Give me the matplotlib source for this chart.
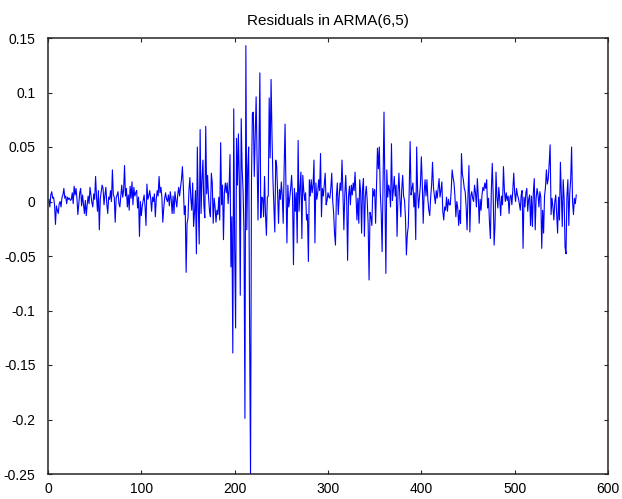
import numpy as np
import matplotlib
matplotlib.use("Agg")
import matplotlib.pyplot as plt
from matplotlib.ticker import FixedLocator, FuncFormatter

# ARMA(6,5) residuals, in thousandths, one row per 10 observations
resid_milli = [
    2, -5, 6, 9, 3, 4, -3, -21, -4, -8,
    -11, -2, 0, -5, 4, 6, 12, 3, 5, -2,
    4, 2, 3, 1, 2, 8, -2, 14, 6, 12,
    3, -12, -2, 8, 12, -4, 6, -3, -11, 1,
    -13, -3, 5, -2, 13, 6, -1, -5, 7, 2,
    23, 4, -9, 10, -26, 2, 9, 15, 12, -3,
    6, 13, -2, -11, 4, 2, 10, 0, 29, 6,
    4, -19, 3, 6, 9, -2, -5, 5, 15, 4,
    10, 33, 5, 12, -5, 6, -8, 14, 3, 18,
    -3, 13, 5, 8, 10, -6, 4, -32, 0, -13,
    -4, 1, 6, -5, -22, 16, 2, 5, 10, 3,
    -9, 4, 0, 7, -14, 2, 10, 5, 23, 8,
    13, 4, -19, -6, 3, 8, 2, 0, 6, -4,
    9, 2, -11, 5, -11, 9, 1, -5, 6, 13,
    5, 13, 20, 32, 14, -12, -4, -65, -20, -15,
    10, 22, 3, -8, 17, -23, -10, 10, -48, 50,
    -5, -39, 66, -11, 20, 38, -3, -15, 69, 7,
    24, 4, -8, -14, 26, 17, -20, 3, -5, -19,
    -8, -12, 4, -17, 54, -3, 15, -35, 8, 17,
    8, 17, -2, 12, 43, -60, -14, -139, 85, -40,
    -116, 58, 15, 62, 20, -86, 76, 30, 10, -29,
    -199, 143, -26, 30, 50, -116, -252, 18, 81, 82,
    23, 60, 96, 40, -17, 44, 118, -15, 4, 3,
    -14, 23, -11, -31, 4, 5, 95, 40, 112, 60,
    20, -5, -28, 38, 33, 8, -20, 11, 2, 18,
    5, -20, 30, 71, 10, -38, 15, -5, 3, 12,
    24, 5, -58, 12, -9, 8, -38, 56, -9, 12,
    27, -34, 24, 10, 1, 8, -17, -12, -55, 20,
    5, 20, 8, 15, 38, -38, 17, 2, 8, 20,
    10, 44, -14, 12, 5, 15, 26, -3, 1, 8,
    4, 3, 12, 26, 1, -10, -29, -40, 5, 17,
    -12, 5, 17, 10, 38, 8, -26, 6, 24, 1,
    -54, 5, 14, -3, 15, 6, 17, 10, 27, 4,
    -17, 3, -20, 20, 8, -29, 12, 21, -32, 5,
    14, 1, -20, -72, -10, -14, -22, 12, 5, 11,
    -20, 15, 49, 30, 50, 8, -10, -46, 20, 82,
    10, -66, 29, 4, 15, 10, -5, 53, 1, 10,
    23, 5, 15, -32, 8, 26, 3, -14, 11, 24,
    5, 1, -15, -49, -30, -23, 10, 55, 6, 12,
    17, -5, 8, -35, 50, 10, -6, 4, 15, 41,
    17, -20, 8, 20, 5, 20, 2, -8, -13, 4,
    15, 36, 13, 5, -2, 10, 3, 12, 21, 4,
    10, 18, -9, -17, -5, -8, 4, -9, 2, -3,
    -3, 10, 29, 22, 17, 5, -14, 0, -6, -22,
    -8, -20, 44, 25, 20, 12, 9, -5, -26, 6,
    33, -28, 5, 9, 3, 0, 15, 8, -5, 21,
    5, -20, 2, -8, 6, 13, 10, 17, 12, 20,
    -6, 3, -19, -34, 10, 35, 5, -40, -20, 27,
    4, -6, 13, 2, -13, 5, -3, 32, 10, 0,
    8, 1, 5, -11, 4, 6, -3, 10, 26, 8,
    0, 12, 6, 3, -2, -8, 6, 10, -43, 4,
    -5, 8, 12, -9, 2, 6, -22, 5, -23, 8,
    21, -26, 3, 12, 6, -5, 9, 4, -43, -8,
    -29, 5, 13, 29, 16, 21, 35, 52, -12, 3,
    -5, -17, 0, 6, -11, -29, 4, -17, 36, 5,
    -23, 20, 2, -42, -48, 5, 20, -22, 7, 20,
    50, 0, -12, 3, -2, 6,
]
x_ticks = [0, 100, 200, 300, 400, 500, 600]
y_ticks = [-0.25, -0.2, -0.15, -0.1, -0.05, 0, 0.05, 0.1, 0.15]
title = "Residuals in ARMA(6,5)"

resid = np.array(resid_milli) / 1000.0
t = np.arange(1, len(resid) + 1)

plt.rcParams["font.family"] = ["Liberation Sans", "DejaVu Sans"]

fig = plt.figure(figsize=(6.22, 4.99), dpi=100)
ax = fig.add_axes([48 / 622, 25 / 499, 560 / 622, 436 / 499])

ax.plot(t, resid, color="#0000ff", lw=0.8)

ax.set_xlim(0, 600)
ax.set_ylim(-0.25, 0.15)
ax.xaxis.set_major_locator(FixedLocator(x_ticks))
ax.yaxis.set_major_locator(FixedLocator(y_ticks))
ax.yaxis.set_major_formatter(FuncFormatter(lambda v, p: "%g" % round(v, 4)))
ax.tick_params(direction="in", length=3, width=0.8, color="#262626",
               top=True, right=True, labelsize=10)
ax.tick_params(axis="y", pad=9)
ax.tick_params(axis="x", pad=6)
for s in ax.spines.values():
    s.set_linewidth(1.1)
    s.set_color("#262626")

ax.set_title(title, fontsize=11, pad=9)

fig.savefig("out.png", dpi=100)
